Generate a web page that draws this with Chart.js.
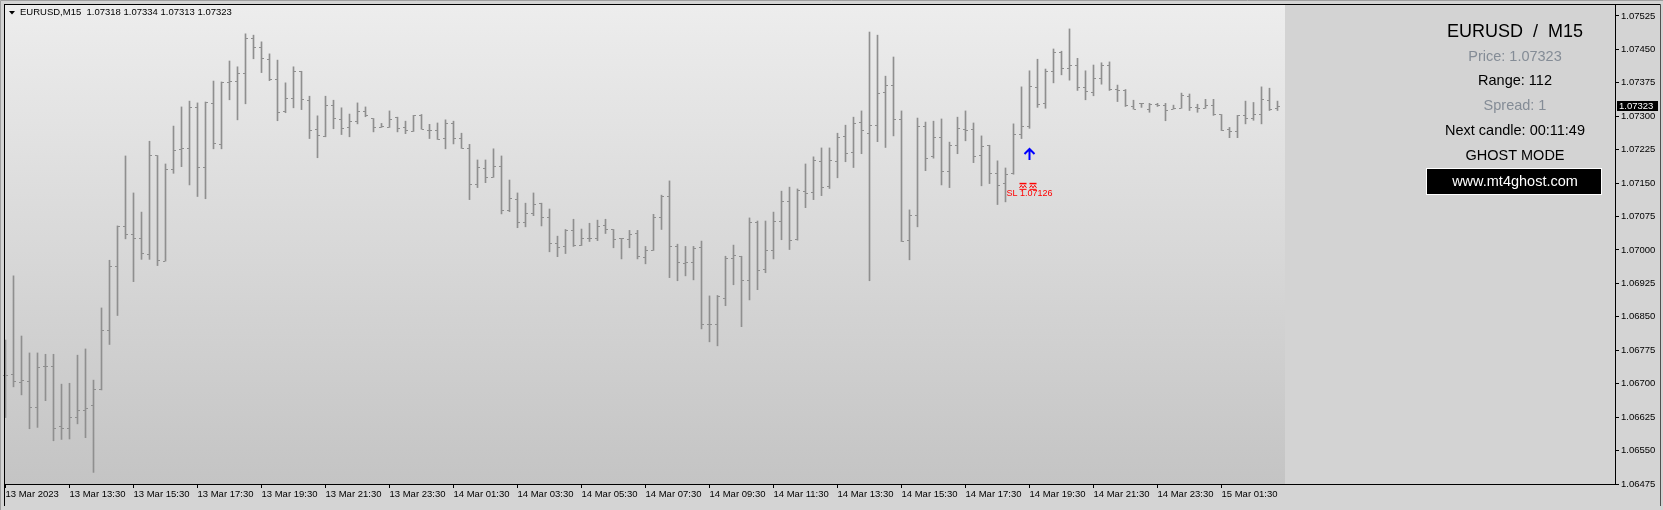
<!DOCTYPE html>
<html>
<head>
<meta charset="utf-8">
<script src="https://cdn.jsdelivr.net/npm/chart.js@4.4.1/dist/chart.umd.min.js"></script>
<style>
html, body { margin: 0; padding: 0; background: #d4d4d4; overflow: hidden; }
canvas { display: block; }
</style>
</head>
<body>
<canvas id="c" width="1663" height="510"></canvas>
<script>
// EURUSD M15 bars (bar 0 = 13 Mar 11:30)
var opens = [
    1.06719, 1.06721, 1.06703, 1.06706, 1.06647, 1.06738, 1.06738, 1.06604, 1.06600, 1.06624,
    1.06640, 1.06651, 1.06686, 1.06820, 1.06962, 1.07052, 1.07035, 1.07026, 1.06990, 1.07211,
    1.06975, 1.07181, 1.07226, 1.07228, 1.07320, 1.07184, 1.07329, 1.07237, 1.07375, 1.07378,
    1.07395, 1.07475, 1.07455, 1.07428, 1.07383, 1.07311, 1.07340, 1.07401, 1.07336, 1.07271,
    1.07255, 1.07325, 1.07293, 1.07275, 1.07289, 1.07311, 1.07295, 1.07275, 1.07275, 1.07298,
    1.07275, 1.07266, 1.07302, 1.07268, 1.07268, 1.07250, 1.07284, 1.07250, 1.07228, 1.07147,
    1.07183, 1.07163, 1.07188, 1.07089, 1.07114, 1.07062, 1.07082, 1.07105, 1.07073, 1.07015,
    1.07008, 1.07044, 1.07010, 1.07026, 1.07026, 1.07055, 1.07046, 1.07026, 1.07024, 1.07037,
    1.06983, 1.06999, 1.07073, 1.07120, 1.07008, 1.06970, 1.06972, 1.07006, 1.06833, 1.06833,
    1.06891, 1.06981, 1.06986, 1.06932, 1.07062, 1.06956, 1.06999, 1.07064, 1.07109, 1.07024,
    1.07132, 1.07129, 1.07199, 1.07143, 1.07199, 1.07255, 1.07219, 1.07286, 1.07262, 1.07280,
    1.07354, 1.07370, 1.07292, 1.07022, 1.07078, 1.07278, 1.07209, 1.07253, 1.07176, 1.07235,
    1.07271, 1.07271, 1.07212, 1.07235, 1.07172, 1.07149, 1.07172, 1.07259, 1.07277, 1.07365,
    1.07329, 1.07401, 1.07443, 1.07408, 1.07414, 1.07365, 1.07354, 1.07385, 1.07415, 1.07360,
    1.07358, 1.07322, 1.07329, 1.07316, 1.07327, 1.07325, 1.07316, 1.07318, 1.07345, 1.07320,
    1.07318, 1.07325, 1.07304, 1.07271, 1.07266, 1.07302, 1.07295, 1.07304, 1.07336, 1.07318
];
var highs = [
    1.06798, 1.06942, 1.06807, 1.06769, 1.06769, 1.06766, 1.06766, 1.06699, 1.06701, 1.06764,
    1.06778, 1.06708, 1.06870, 1.06977, 1.07054, 1.07211, 1.07128, 1.07085, 1.07244, 1.07212,
    1.07193, 1.07278, 1.07321, 1.07334, 1.07330, 1.07332, 1.07379, 1.07377, 1.07424, 1.07411,
    1.07485, 1.07482, 1.07467, 1.07440, 1.07426, 1.07375, 1.07411, 1.07401, 1.07345, 1.07301,
    1.07345, 1.07336, 1.07319, 1.07305, 1.07330, 1.07321, 1.07295, 1.07284, 1.07312, 1.07298,
    1.07289, 1.07302, 1.07304, 1.07282, 1.07285, 1.07292, 1.07289, 1.07262, 1.07237, 1.07202,
    1.07202, 1.07227, 1.07211, 1.07157, 1.07128, 1.07105, 1.07128, 1.07105, 1.07092, 1.07031,
    1.07046, 1.07069, 1.07047, 1.07060, 1.07067, 1.07069, 1.07046, 1.07026, 1.07044, 1.07044,
    1.07008, 1.07080, 1.07123, 1.07155, 1.07013, 1.07008, 1.07008, 1.07020, 1.06897, 1.06898,
    1.06986, 1.07011, 1.06986, 1.07072, 1.07065, 1.07065, 1.07085, 1.07132, 1.07141, 1.07137,
    1.07193, 1.07209, 1.07229, 1.07229, 1.07262, 1.07280, 1.07298, 1.07312, 1.07489, 1.07482,
    1.07390, 1.07433, 1.07312, 1.07090, 1.07296, 1.07287, 1.07289, 1.07294, 1.07242, 1.07298,
    1.07312, 1.07285, 1.07256, 1.07235, 1.07200, 1.07184, 1.07283, 1.07366, 1.07402, 1.07428,
    1.07406, 1.07451, 1.07446, 1.07496, 1.07430, 1.07402, 1.07415, 1.07420, 1.07422, 1.07370,
    1.07360, 1.07336, 1.07329, 1.07329, 1.07329, 1.07329, 1.07325, 1.07352, 1.07350, 1.07327,
    1.07338, 1.07338, 1.07304, 1.07275, 1.07302, 1.07334, 1.07331, 1.07366, 1.07363, 1.07334
];
var lows = [
    1.06624, 1.06693, 1.06675, 1.06599, 1.06602, 1.06662, 1.06572, 1.06575, 1.06576, 1.06610,
    1.06579, 1.06501, 1.06686, 1.06788, 1.06853, 1.07025, 1.06929, 1.06979, 1.06979, 1.06965,
    1.06975, 1.07172, 1.07187, 1.07146, 1.07120, 1.07115, 1.07227, 1.07227, 1.07337, 1.07292,
    1.07328, 1.07429, 1.07398, 1.07380, 1.07290, 1.07308, 1.07319, 1.07315, 1.07250, 1.07207,
    1.07254, 1.07272, 1.07259, 1.07254, 1.07283, 1.07299, 1.07265, 1.07275, 1.07275, 1.07265,
    1.07261, 1.07266, 1.07271, 1.07250, 1.07248, 1.07227, 1.07238, 1.07228, 1.07113, 1.07140,
    1.07151, 1.07163, 1.07081, 1.07086, 1.07050, 1.07052, 1.07077, 1.07054, 1.06996, 1.06985,
    1.06992, 1.07008, 1.07010, 1.07019, 1.07021, 1.07037, 1.07005, 1.06980, 1.07005, 1.06980,
    1.06969, 1.06999, 1.07046, 1.06938, 1.06931, 1.06942, 1.06933, 1.06823, 1.06794, 1.06785,
    1.06875, 1.06922, 1.06828, 1.06888, 1.06911, 1.06949, 1.06980, 1.07023, 1.07001, 1.07022,
    1.07095, 1.07113, 1.07122, 1.07138, 1.07162, 1.07198, 1.07185, 1.07216, 1.06931, 1.07243,
    1.07230, 1.07256, 1.07019, 1.06978, 1.07052, 1.07178, 1.07206, 1.07146, 1.07140, 1.07216,
    1.07245, 1.07196, 1.07144, 1.07149, 1.07102, 1.07108, 1.07170, 1.07250, 1.07273, 1.07320,
    1.07318, 1.07375, 1.07393, 1.07381, 1.07358, 1.07337, 1.07346, 1.07372, 1.07358, 1.07333,
    1.07322, 1.07316, 1.07320, 1.07309, 1.07322, 1.07290, 1.07316, 1.07318, 1.07313, 1.07309,
    1.07318, 1.07302, 1.07268, 1.07252, 1.07252, 1.07283, 1.07291, 1.07283, 1.07313, 1.07313
];
var closes = [
    1.06719, 1.06706, 1.06707, 1.06647, 1.06737, 1.06738, 1.06600, 1.06600, 1.06624, 1.06640,
    1.06645, 1.06686, 1.06820, 1.06962, 1.07052, 1.07035, 1.07026, 1.06992, 1.07211, 1.06977,
    1.07181, 1.07224, 1.07228, 1.07320, 1.07184, 1.07332, 1.07239, 1.07375, 1.07378, 1.07395,
    1.07475, 1.07455, 1.07430, 1.07383, 1.07309, 1.07340, 1.07401, 1.07338, 1.07269, 1.07257,
    1.07325, 1.07295, 1.07273, 1.07289, 1.07311, 1.07302, 1.07275, 1.07277, 1.07293, 1.07273,
    1.07268, 1.07302, 1.07271, 1.07268, 1.07248, 1.07284, 1.07250, 1.07228, 1.07147, 1.07185,
    1.07163, 1.07188, 1.07089, 1.07116, 1.07062, 1.07082, 1.07102, 1.07073, 1.07015, 1.07006,
    1.07044, 1.07010, 1.07026, 1.07026, 1.07053, 1.07046, 1.07024, 1.07026, 1.07035, 1.06986,
    1.06999, 1.07073, 1.07120, 1.07008, 1.06972, 1.06972, 1.07004, 1.06833, 1.06833, 1.06896,
    1.06981, 1.06988, 1.06932, 1.07062, 1.06954, 1.06999, 1.07064, 1.07109, 1.07022, 1.07134,
    1.07127, 1.07201, 1.07141, 1.07201, 1.07253, 1.07217, 1.07284, 1.07268, 1.07280, 1.07351,
    1.07370, 1.07292, 1.07019, 1.07078, 1.07278, 1.07206, 1.07253, 1.07176, 1.07235, 1.07273,
    1.07268, 1.07209, 1.07233, 1.07172, 1.07145, 1.07170, 1.07259, 1.07277, 1.07367, 1.07327,
    1.07401, 1.07443, 1.07408, 1.07414, 1.07365, 1.07356, 1.07385, 1.07415, 1.07360, 1.07358,
    1.07325, 1.07316, 1.07329, 1.07327, 1.07325, 1.07313, 1.07318, 1.07347, 1.07320, 1.07318,
    1.07325, 1.07304, 1.07268, 1.07266, 1.07302, 1.07295, 1.07304, 1.07338, 1.07316, 1.07323
];

// one time label every 8 bars (2 hours)
var timeLabels = [
    "13 Mar 2023", "13 Mar 13:30", "13 Mar 15:30", "13 Mar 17:30", "13 Mar 19:30",
    "13 Mar 21:30", "13 Mar 23:30", "14 Mar 01:30", "14 Mar 03:30", "14 Mar 05:30",
    "14 Mar 07:30", "14 Mar 09:30", "14 Mar 11:30", "14 Mar 13:30", "14 Mar 15:30",
    "14 Mar 17:30", "14 Mar 19:30", "14 Mar 21:30", "14 Mar 23:30", "15 Mar 01:30"
];
var barsPerLabel = 8;
var priceTicks = [
    1.06475, 1.06550, 1.06625, 1.06700, 1.06775, 1.06850, 1.06925, 1.07000,
    1.07075, 1.07150, 1.07225, 1.07300, 1.07375, 1.07450, 1.07525
];

var symbolTitle = "EURUSD,M15  1.07318 1.07334 1.07313 1.07323";
var lastPrice = 1.07323;
var signalBar = 128;
var signalPrice = 1.07229;
var slPrice = 1.07126;
var panelLines = [
    { text: "Price: 1.07323", color: "#848c96" },
    { text: "Range: 112", color: "#000000" },
    { text: "Spread: 1", color: "#848c96" },
    { text: "Next candle: 00:11:49", color: "#000000" },
    { text: "GHOST MODE", color: "#000000" }
];

var barColor = "#8f8f8f";
var smallFont = '9.5px "Liberation Sans", Arial, sans-serif';

//background, panel, ohlc ticks and all the MT4 texts
var mt4Plugin = {
    id: "mt4",
    beforeDraw(chart) {
        var ctx = chart.ctx, a = chart.chartArea;
        ctx.save();
        ctx.fillStyle = "#d4d4d4";
        ctx.fillRect(0, 0, chart.width, chart.height);
        var g = ctx.createLinearGradient(0, a.top, 0, a.bottom);
        g.addColorStop(0, "#ededed");
        g.addColorStop(1, "#c4c4c4");
        ctx.fillStyle = g;
        ctx.fillRect(a.left, a.top, a.right - a.left, a.bottom - a.top);
        //indicator panel
        ctx.fillStyle = "#d3d3d3";
        ctx.fillRect(1285, a.top, a.right - 1285, a.bottom - a.top);
        ctx.restore();
    },
    afterDatasetsDraw(chart) {
        var ctx = chart.ctx, xs = chart.scales.x, ys = chart.scales.y;
        ctx.save();
        ctx.fillStyle = barColor;
        for (var i = 0; i < opens.length; i++) {
            var x = Math.round(xs.getPixelForValue(i) - 0.5);
            ctx.fillRect(x - 2, Math.round(ys.getPixelForValue(opens[i]) - 0.5), 2, 1);
            ctx.fillRect(x + 1, Math.round(ys.getPixelForValue(closes[i]) - 0.5), 2, 1);
        }

        //buy arrow
        var ax = xs.getPixelForValue(signalBar), ay = ys.getPixelForValue(signalPrice);
        ctx.strokeStyle = "#0000ff";
        ctx.lineWidth = 2;
        ctx.beginPath();
        ctx.moveTo(ax, ay + 1);
        ctx.lineTo(ax, ay + 12);
        ctx.moveTo(ax - 5, ay + 6);
        ctx.lineTo(ax, ay + 1);
        ctx.lineTo(ax + 5, ay + 6);
        ctx.stroke();

        //stop loss marks + label
        var sy = ys.getPixelForValue(slPrice);
        ctx.strokeStyle = "#ff0000";
        ctx.fillStyle = "#ff0000";
        ctx.lineWidth = 1;
        [-6.5, 3.5].forEach(function (dx) {
            var cx = ax + dx;
            ctx.fillRect(cx - 3.5, sy - 11, 7, 1.5);
            ctx.beginPath();
            ctx.moveTo(cx - 3.5, sy - 6);
            ctx.lineTo(cx - 1.7, sy - 8.5);
            ctx.lineTo(cx, sy - 6);
            ctx.lineTo(cx + 1.7, sy - 8.5);
            ctx.lineTo(cx + 3.5, sy - 6);
            ctx.stroke();
            ctx.fillRect(cx - 3.5, sy - 5, 7, 1);
        });
        ctx.font = '9px "Liberation Sans", Arial, sans-serif';
        ctx.textAlign = "center";
        ctx.textBaseline = "middle";
        ctx.fillText("SL " + slPrice.toFixed(5), ax, sy);
        ctx.restore();
    },
    afterDraw(chart) {
        var ctx = chart.ctx, a = chart.chartArea, ys = chart.scales.y;
        ctx.save();
        //window frame
        ctx.strokeStyle = "#000";
        ctx.lineWidth = 1;
        ctx.beginPath();
        ctx.moveTo(4.5, 506);
        ctx.lineTo(4.5, 4.5);
        ctx.lineTo(1660.5, 4.5);
        ctx.stroke();
        ctx.strokeStyle = "#505050";
        ctx.beginPath();
        ctx.moveTo(1660.5, 4.5);
        ctx.lineTo(1660.5, 506);
        ctx.stroke();
        ctx.strokeStyle = "#000";
        ctx.strokeRect(a.left + 0.5, a.top + 0.5, a.right - a.left, a.bottom - a.top);
        ctx.strokeStyle = "#a0a0a0";
        ctx.beginPath();
        ctx.moveTo(0.5, 510);
        ctx.lineTo(0.5, 0.5);
        ctx.lineTo(1663, 0.5);
        ctx.stroke();

        //symbol title
        ctx.fillStyle = "#000";
        ctx.beginPath();
        ctx.moveTo(9, 11);
        ctx.lineTo(15, 11);
        ctx.lineTo(12, 14.5);
        ctx.closePath();
        ctx.fill();
        ctx.font = smallFont;
        ctx.textAlign = "left";
        ctx.textBaseline = "middle";
        ctx.fillText(symbolTitle, 20, 12.5);

        //panel texts
        var cx = 1515;
        ctx.textAlign = "center";
        ctx.font = '18px "Liberation Sans", Arial, sans-serif';
        ctx.fillText("EURUSD  /  M15", cx, 32);
        ctx.font = '14.5px "Liberation Sans", Arial, sans-serif';
        panelLines.forEach(function (l, k) {
            ctx.fillStyle = l.color;
            ctx.fillText(l.text, cx, 56.5 + k * 24.8);
        });
        ctx.fillStyle = "#000";
        ctx.fillRect(1426, 168, 176, 27);
        ctx.strokeStyle = "#fff";
        ctx.strokeRect(1426.5, 168.5, 175, 26);
        ctx.fillStyle = "#fff";
        ctx.fillText("www.mt4ghost.com", cx, 181.5);

        //last price box on the axis
        var py = ys.getPixelForValue(lastPrice);
        ctx.fillStyle = "#000";
        ctx.fillRect(1617, Math.round(py) - 5, 41, 10);
        ctx.fillStyle = "#fff";
        ctx.font = smallFont;
        ctx.textAlign = "left";
        ctx.fillText(lastPrice.toFixed(5), 1619, Math.round(py) + 0.5);
        ctx.restore();
    }
};

var chart = new Chart(document.getElementById("c"), {
    type: "bar",
    data: {
        datasets: [{
            data: opens.map(function (o, i) { return { x: i, y: [lows[i], highs[i]] }; }),
            backgroundColor: barColor,
            borderWidth: 0,
            barThickness: 1
        }]
    },
    options: {
        responsive: false,
        animation: false,
        devicePixelRatio: 1,
        layout: { padding: { left: 4, top: 4, right: 0, bottom: 0 } },
        plugins: { legend: { display: false }, tooltip: { enabled: false } },
        scales: {
            x: {
                type: "linear",
                offset: false,
                min: -0.1875,
                max: 201.1875,
                grid: { drawOnChartArea: false, tickLength: 4, color: "#000", offset: false },
                border: { display: false },
                ticks: {
                    align: "start",
                    maxRotation: 0,
                    autoSkip: false,
                    padding: 1,
                    color: "#000",
                    font: { family: '"Liberation Sans", Arial, sans-serif', size: 9.5 },
                    callback: function (v, i) { return timeLabels[i]; }
                },
                afterBuildTicks: function (s) {
                    s.ticks = timeLabels.map(function (t, k) { return { value: k * barsPerLabel }; });
                },
                afterFit: function (s) {
                    s.height = 26;
                    s.paddingLeft = 0;
                    s.paddingRight = 0;
                }
            },
            y: {
                position: "right",
                min: 1.06475,
                max: 1.075519,
                grid: { drawOnChartArea: false, tickLength: 4, color: "#000" },
                border: { display: false },
                ticks: {
                    padding: 2,
                    color: "#000",
                    font: { family: '"Liberation Sans", Arial, sans-serif', size: 9.5 },
                    callback: function (v) { return v.toFixed(5); }
                },
                afterBuildTicks: function (s) {
                    s.ticks = priceTicks.map(function (v) { return { value: v }; });
                },
                afterFit: function (s) {
                    s.width = 48;
                    s.paddingTop = 0;
                    s.paddingBottom = 0;
                }
            }
        }
    },
    plugins: [mt4Plugin]
});
</script>
</body>
</html>
